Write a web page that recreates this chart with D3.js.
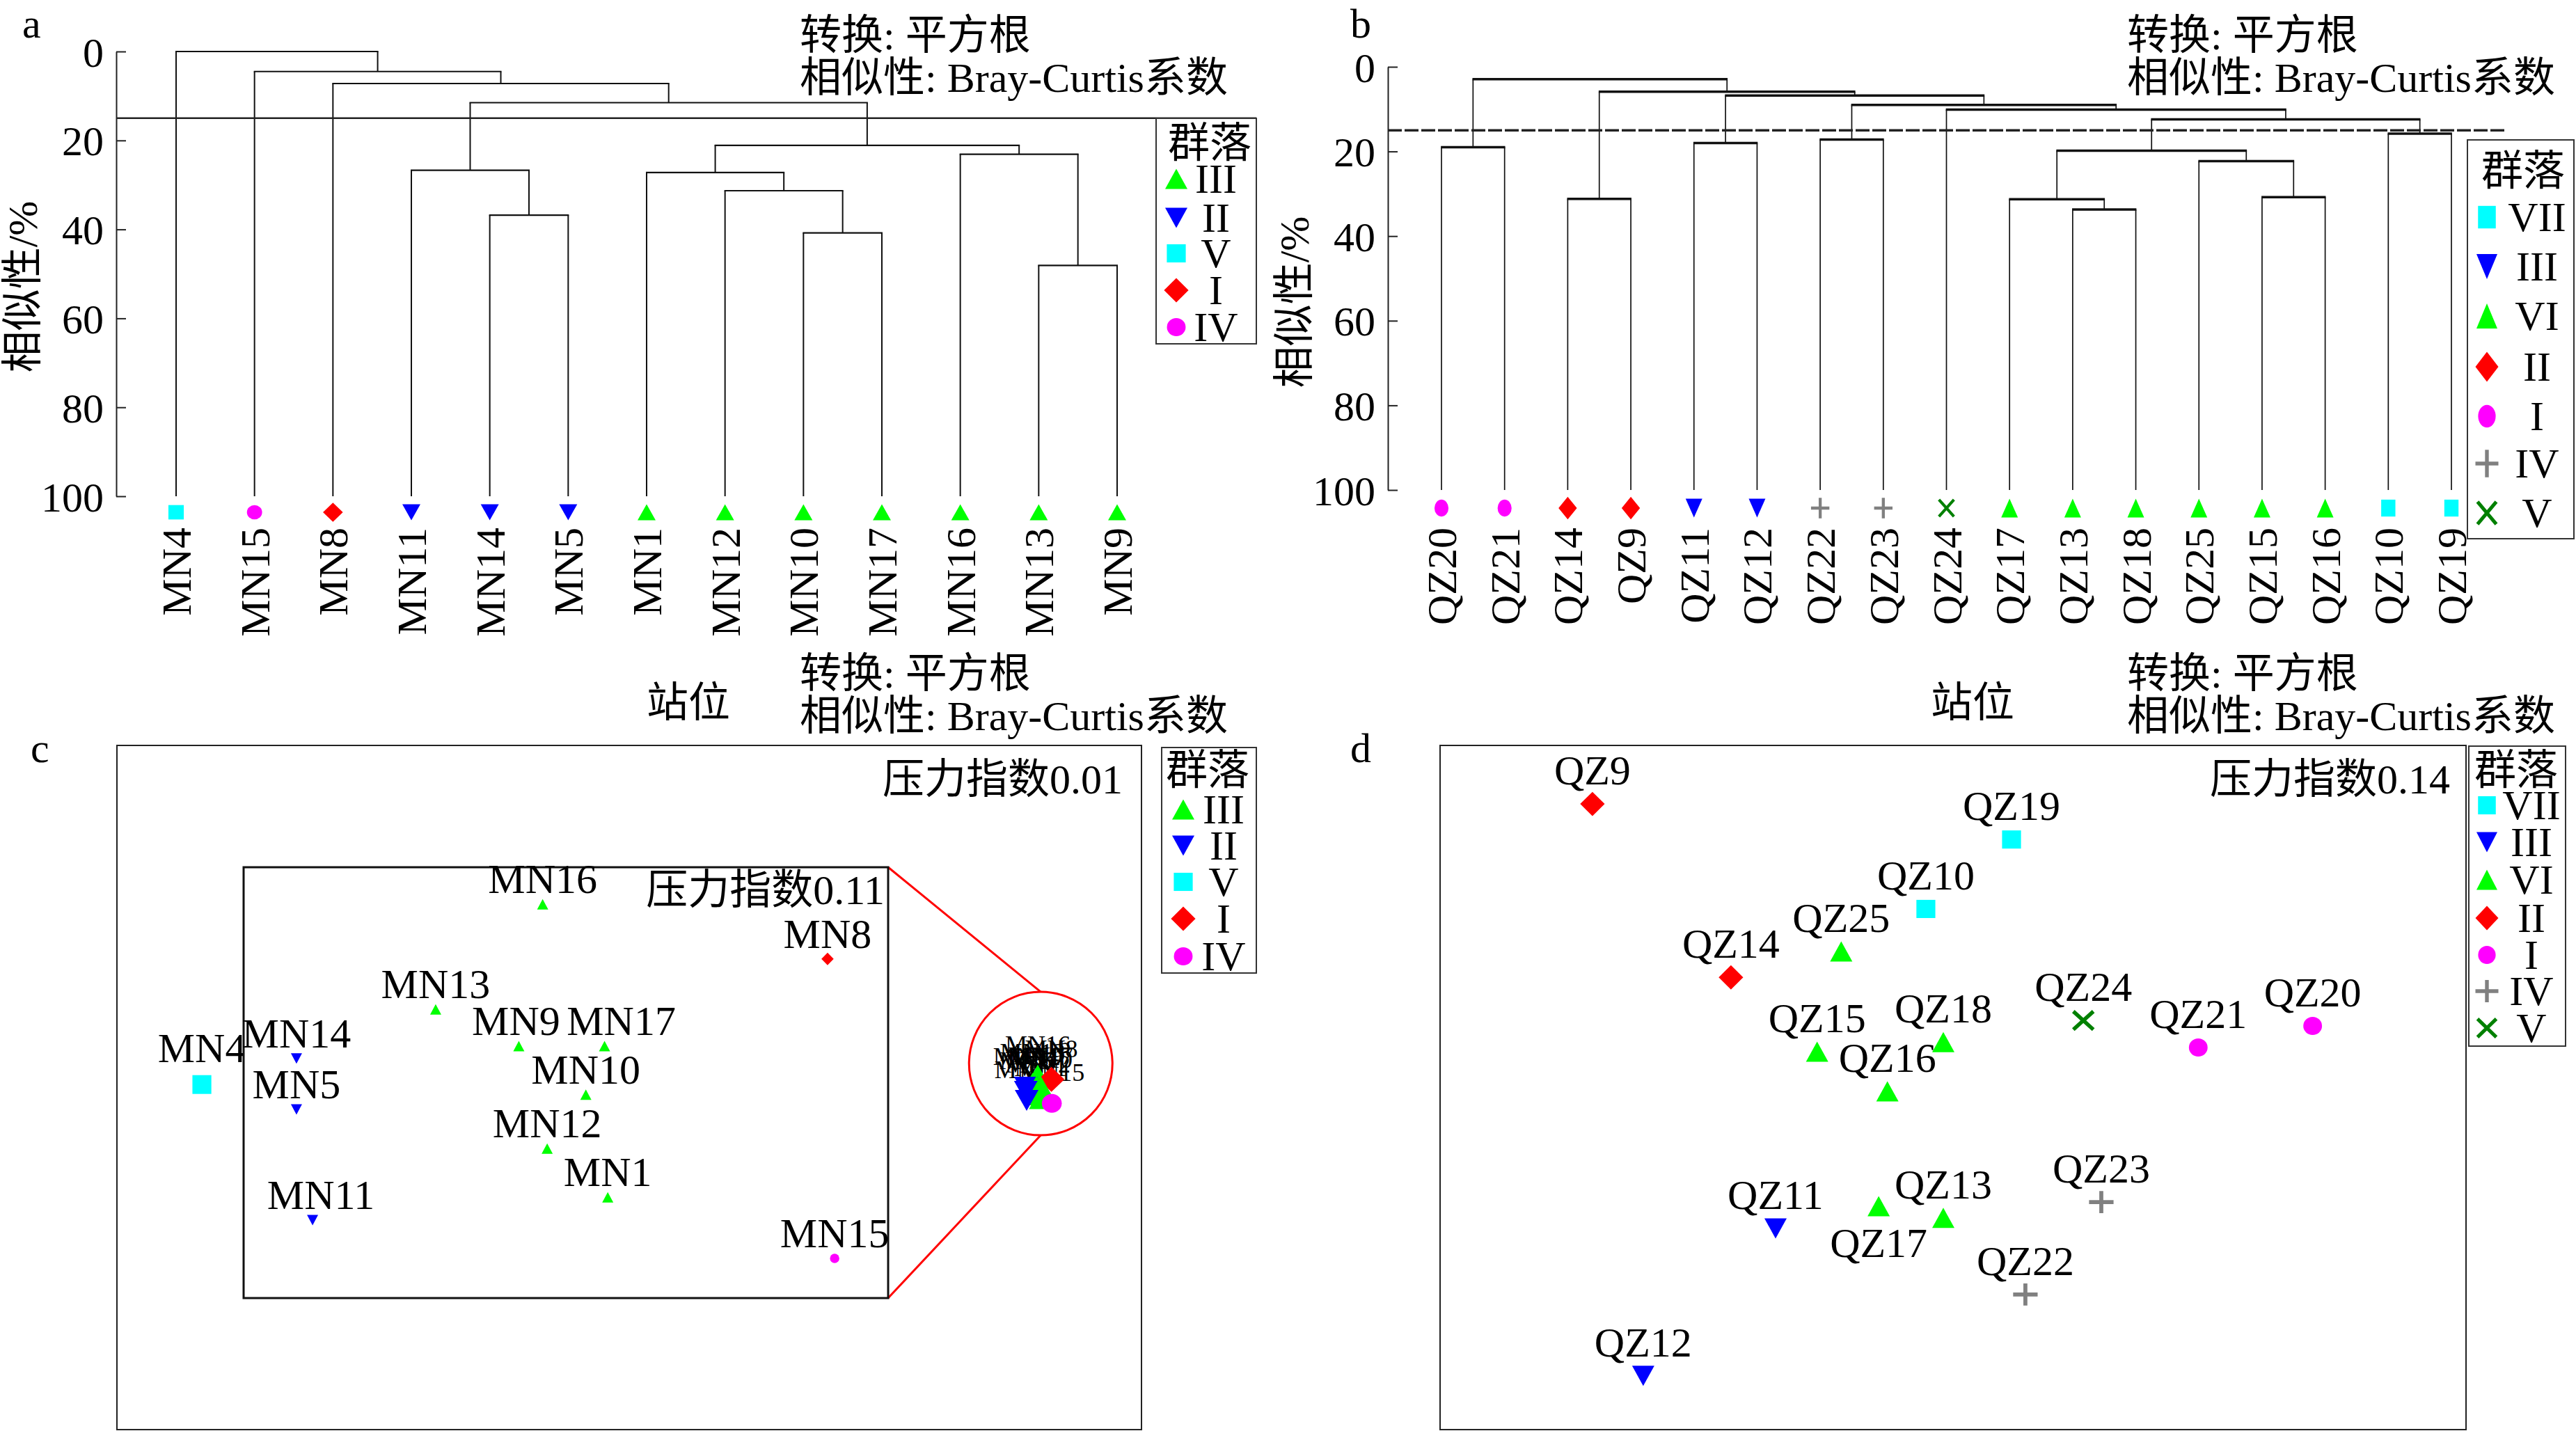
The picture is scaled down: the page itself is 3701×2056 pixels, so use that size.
<!DOCTYPE html>
<html><head><meta charset="utf-8">
<script src="https://cdn.jsdelivr.net/npm/d3@7"></script>
<style>
body{margin:0;background:#fff}
svg{display:block}
text{font-family:"Liberation Serif","Times New Roman","Noto Sans CJK SC",serif;fill:#000}
</style>
</head><body>
<svg id="chart" width="3701" height="2056"></svg>
<script>
// ---------------- DATA ----------------
// Panel a: dendrogram (sites MN)
const leavesA = ["MN4","MN15","MN8","MN11","MN14","MN5","MN1","MN12","MN10","MN17","MN16","MN13","MN9"];
const groupsA = ["V","IV","I","II","II","II","III","III","III","III","III","III","III"];
// [left, right, similarity %, node id]
const mergesA = [
  ["MN14","MN5",36.8,"a1"],
  ["MN11","a1",26.7,"a2"],
  ["MN10","MN17",40.8,"a3"],
  ["MN12","a3",31.3,"a4"],
  ["MN1","a4",27.2,"a5"],
  ["MN13","MN9",48.1,"a6"],
  ["MN16","a6",23.1,"a7"],
  ["a5","a7",21.1,"a8"],
  ["a2","a8",11.5,"a9"],
  ["MN8","a9",7.2,"a10"],
  ["MN15","a10",4.5,"a11"],
  ["MN4","a11",0.0,"a12"]
];
const cutA = 15;
const legendA = ["III","II","V","I","IV"];

// Panel b: dendrogram (sites QZ)
const leavesB = ["QZ20","QZ21","QZ14","QZ9","QZ11","QZ12","QZ22","QZ23","QZ24","QZ17","QZ13","QZ18","QZ25","QZ15","QZ16","QZ10","QZ19"];
const groupsB = ["I","I","II","II","III","III","IV","IV","V","VI","VI","VI","VI","VI","VI","VII","VII"];
const mergesB = [
  ["QZ20","QZ21",19.0,"b1"],
  ["QZ14","QZ9",31.2,"b2"],
  ["QZ11","QZ12",18.0,"b3"],
  ["QZ22","QZ23",17.2,"b4"],
  ["QZ13","QZ18",33.7,"b5"],
  ["QZ17","b5",31.3,"b6"],
  ["QZ15","QZ16",30.8,"b7"],
  ["QZ25","b7",22.3,"b8"],
  ["b6","b8",19.8,"b9"],
  ["QZ10","QZ19",15.8,"b10"],
  ["b9","b10",12.4,"b11"],
  ["QZ24","b11",10.1,"b12"],
  ["b4","b12",9.0,"b13"],
  ["b3","b13",6.8,"b14"],
  ["b2","b14",5.9,"b15"],
  ["b1","b15",2.9,"b16"]
];
const cutB = 15;
const legendB = ["VII","III","VI","II","I","IV","V"];
const simTicks = [0,20,40,60,80,100];

// Panel c: NMDS (stress 0.01) and inset (stress 0.11)
const namesC  = ["MN16","MN8","MN13","MN14","MN9","MN17","MN5","MN10","MN12","MN1","MN11","MN15"];
const groupsC = ["III","I","III","II","III","III","II","III","III","III","II","IV"];
const insetX  = [46.4,90.6,29.8,8.2,42.7,56.0,8.2,53.1,47.1,56.5,10.7,91.7];
const insetY  = [91.4,78.7,67.0,55.6,58.5,58.5,43.8,47.2,34.7,23.4,18.1,9.2];
const mainX   = [0.957,0.989,0.945,0.929,0.954,0.964,0.929,0.962,0.957,0.964,0.931,0.990];
const mainY   = [0.029,0.019,0.010,0.001,0.003,0.003,-0.009,-0.006,-0.017,-0.026,-0.030,-0.037];
const outlierC = {name:"MN4", group:"V", x:-1.001, y:0.007};
const zoomCircleC = {x:0.964, y:0.056};
const legendC = ["III","II","V","I","IV"];
const labelShiftC = {MN9:-4, MN17:24, MN11:12};

// Panel d: NMDS (stress 0.14)
const namesD  = ["QZ9","QZ19","QZ10","QZ25","QZ14","QZ24","QZ21","QZ20","QZ18","QZ15","QZ16","QZ23","QZ13","QZ17","QZ11","QZ22","QZ12"];
const groupsD = ["II","VII","VII","VI","II","V","I","I","VI","VI","VI","IV","VI","VI","III","IV","III"];
const xD = [-0.703,0.114,-0.053,-0.218,-0.433,0.254,0.478,0.701,-0.019,-0.265,-0.128,0.289,-0.019,-0.145,-0.346,0.141,-0.604];
const yD = [0.829,0.725,0.522,0.398,0.322,0.196,0.117,0.180,0.133,0.105,-0.011,-0.335,-0.381,-0.347,-0.412,-0.605,-0.843];
const labelBelowD = ["QZ17"];
const legendD = ["VII","III","VI","II","I","IV","V"];

const txtTransform = "转换: 平方根";
const txtSimilarity = "相似性: Bray-Curtis系数";
const txtYLabel = "相似性/%";
const txtXLabel = "站位";
const txtLegendTitle = "群落";
const stressMainC = "压力指数0.01", stressInsetC = "压力指数0.11", stressD = "压力指数0.14";

// ---------------- STYLE ----------------
const styleA = {III:{shape:"up",color:"#00ff00"},II:{shape:"down",color:"#0000ff"},V:{shape:"square",color:"#00ffff"},I:{shape:"diamond",color:"#ff0000"},IV:{shape:"circle",color:"#ff00ff"}};
const styleB = {VII:{shape:"square",color:"#00ffff"},III:{shape:"down",color:"#0000ff"},VI:{shape:"up",color:"#00ff00"},II:{shape:"diamond",color:"#ff0000"},I:{shape:"circle",color:"#ff00ff"},IV:{shape:"plus",color:"#808080"},V:{shape:"cross",color:"#008000"}};
const FS = 60;
const svg = d3.select("#chart");

function marker(g, st, cx, cy, w, h) {
  const c = st.color;
  switch (st.shape) {
    case "up":
      g.append("path").attr("d",`M${cx},${cy-h/2}L${cx+w/2},${cy+h/2}L${cx-w/2},${cy+h/2}Z`).attr("fill",c); break;
    case "down":
      g.append("path").attr("d",`M${cx-w/2},${cy-h/2}L${cx+w/2},${cy-h/2}L${cx},${cy+h/2}Z`).attr("fill",c); break;
    case "square":
      g.append("rect").attr("x",cx-w*0.425).attr("y",cy-h*0.45).attr("width",w*0.85).attr("height",h*0.9).attr("fill",c); break;
    case "diamond":
      g.append("path").attr("d",`M${cx},${cy-h*0.6}L${cx+w*0.55},${cy}L${cx},${cy+h*0.6}L${cx-w*0.55},${cy}Z`).attr("fill",c); break;
    case "circle":
      g.append("ellipse").attr("cx",cx).attr("cy",cy).attr("rx",w*0.42).attr("ry",h*0.45).attr("fill",c); break;
    case "plus":
      g.append("path").attr("d",`M${cx-w*0.55},${cy}H${cx+w*0.55}M${cx},${cy-h*0.55}V${cy+h*0.55}`).attr("stroke",c).attr("stroke-width",w*0.18).attr("fill","none"); break;
    case "cross":
      g.append("path").attr("d",`M${cx-w*0.45},${cy-h*0.45}L${cx+w*0.45},${cy+h*0.45}M${cx+w*0.45},${cy-h*0.45}L${cx-w*0.45},${cy+h*0.45}`).attr("stroke",c).attr("stroke-width",w*0.17).attr("fill","none"); break;
  }
}

function text(g, x, y, s, opts={}) {
  const t = g.append("text").attr("x",x).attr("y",y).text(s)
    .attr("font-size",opts.fs||FS).attr("text-anchor",opts.anchor||"start");
  if (opts.transform) t.attr("transform",opts.transform);
  if (opts.dy) t.attr("dy",opts.dy);
  return t;
}

function legend(g, box, items, style, titleCx, titleY, ys, mx, tx, mw, mh) {
  g.append("rect").attr("x",box[0]).attr("y",box[1]).attr("width",box[2]-box[0]).attr("height",box[3]-box[1])
    .attr("fill","#fff").attr("stroke","#333").attr("stroke-width",2);
  text(g, titleCx, titleY + 0.36*FS, txtLegendTitle, {anchor:"middle"});
  items.forEach((k,i)=>{
    marker(g, style[k], mx, ys[i], mw, mh);
    text(g, tx, ys[i] + 0.33*FS, k, {anchor:"middle"});
  });
}

function dendrogram(opts) {
  const g = svg.append("g");
  const x = d3.scalePoint().domain(opts.leaves).range(opts.xRange);
  const y = d3.scaleLinear().domain([0,100]).range(opts.yRange);
  const axis = d3.axisLeft(y).tickValues(simTicks).tickSizeInner(-14).tickSizeOuter(0).tickPadding(18);
  const ag = g.append("g").attr("transform",`translate(${opts.axisX},0)`).call(axis);
  ag.selectAll("path,line").attr("stroke","#222").attr("stroke-width",2);
  ag.selectAll("text").attr("font-size",FS).attr("font-family",null).attr("fill","#000").attr("dy","0.35em");
  const nodes = {};
  opts.leaves.forEach(l => nodes[l] = {x:x(l), h:100});
  const hs = [], vs = [];
  opts.merges.forEach(([a,b,h,id])=>{
    const A = nodes[a], B = nodes[b];
    vs.push([A.x, y(A.h), A.x, y(h)]);
    vs.push([B.x, y(B.h), B.x, y(h)]);
    hs.push([A.x, y(h), B.x, y(h)]);
    nodes[id] = {x:(A.x+B.x)/2, h:h};
  });
  g.selectAll(null).data(vs).enter().append("line")
    .attr("x1",d=>d[0]).attr("y1",d=>d[1]).attr("x2",d=>d[2]).attr("y2",d=>d[3])
    .attr("stroke","#111").attr("stroke-width",opts.vw);
  g.selectAll(null).data(hs).enter().append("line")
    .attr("x1",d=>d[0]-opts.vw/2).attr("y1",d=>d[1]).attr("x2",d=>d[2]+opts.vw/2).attr("y2",d=>d[3])
    .attr("stroke","#111").attr("stroke-width",opts.hw);
  const cl = g.append("line").attr("x1",opts.axisX).attr("x2",opts.cutEnd).attr("y1",y(opts.cut)).attr("y2",y(opts.cut))
    .attr("stroke","#222").attr("stroke-width",opts.cutW);
  if (opts.dash) cl.attr("stroke-dasharray",opts.dash);
  opts.leaves.forEach((l,i)=>{
    marker(g, opts.style[opts.groups[i]], x(l), opts.markerY, opts.mw, opts.mh);
    text(g, 0, 0, l, {anchor:"end", dy:"0.35em", transform:`translate(${x(l)},${opts.labelY}) rotate(-90)`});
  });
  text(g, 0, 0, txtYLabel, {anchor:"middle", transform:`translate(${opts.yTitle[0]},${opts.yTitle[1]}) rotate(-90)`, dy:"0.35em"});
  text(g, opts.xTitle[0], opts.xTitle[1], txtXLabel, {anchor:"middle"});
  return g;
}

// ---------------- PANEL A ----------------
const gA = dendrogram({leaves:leavesA, groups:groupsA, merges:mergesA, style:styleA,
  xRange:[253,1605], yRange:[74,713], axisX:167, cut:cutA, cutEnd:1805, cutW:2.5,
  vw:2, hw:2.2, markerY:736, mw:26, mh:23, labelY:758, yTitle:[32,412], xTitle:[989,1030]});
text(gA, 32, 54, "a");
text(gA, 1149, 71, txtTransform); text(gA, 1149, 132, txtSimilarity);
text(gA, 1149, 988, txtTransform); text(gA, 1149, 1049, txtSimilarity);
legend(gA, [1661,170,1805,494], legendA, styleA, 1738, 204, [257,313,364,417,470], 1690, 1747, 32, 29);

// ---------------- PANEL B ----------------
const gB = dendrogram({leaves:leavesB, groups:groupsB, merges:mergesB, style:styleB,
  xRange:[2071,3522], yRange:[96,704], axisX:1994, cut:cutB, cutEnd:3600, cutW:3.5, dash:"20,4",
  vw:1.7, hw:3.5, markerY:730, mw:24, mh:27, labelY:758, yTitle:[1859,434], xTitle:[2834,1030]});
text(gB, 1940, 54, "b");
text(gB, 3056, 71, txtTransform); text(gB, 3056, 132, txtSimilarity);
text(gB, 3056, 988, txtTransform); text(gB, 3056, 1049, txtSimilarity);
legend(gB, [3545,201,3698,774], legendB, styleB, 3625, 244, [312,383,454,527,598,666,737], 3573, 3645, 30, 36);

// ---------------- PANEL C ----------------
const gC = svg.append("g");
const cx = d3.scaleLinear().domain([-1.2,1.2]).range([168,1640]);
const cy = d3.scaleLinear().domain([-0.8,0.8]).range([2054,1071]);
const ix = d3.scaleLinear().domain([0,100]).range([350,1276]);
const iy = d3.scaleLinear().domain([0,100]).range([1865,1246]);
gC.append("rect").attr("x",168).attr("y",1071).attr("width",1640-168).attr("height",2054-1071)
  .attr("fill","none").attr("stroke","#222").attr("stroke-width",2);
text(gC, 44, 1095, "c");
text(gC, 1613, 1140, stressMainC, {anchor:"end"});
const zc = [cx(zoomCircleC.x), cy(zoomCircleC.y)], zr = 103;
gC.append("circle").attr("cx",zc[0]).attr("cy",zc[1]).attr("r",zr).attr("fill","#fff").attr("stroke","#ff0000").attr("stroke-width",3);
gC.append("line").attr("x1",ix(100)).attr("y1",iy(100)).attr("x2",zc[0]).attr("y2",zc[1]-zr).attr("stroke","#ff0000").attr("stroke-width",3);
gC.append("line").attr("x1",ix(100)).attr("y1",iy(0)).attr("x2",zc[0]).attr("y2",zc[1]+zr).attr("stroke","#ff0000").attr("stroke-width",3);
namesC.forEach((n,i)=>{
  text(gC, cx(mainX[i]), cy(mainY[i]) - 32, n, {anchor:"middle", fs:36});
});
namesC.forEach((n,i)=>{
  marker(gC, styleA[groupsC[i]], cx(mainX[i]), cy(mainY[i]), 34, 30);
});
marker(gC, styleA[outlierC.group], cx(outlierC.x), cy(outlierC.y), 32, 30);
text(gC, cx(outlierC.x), cy(outlierC.y) - 32, outlierC.name, {anchor:"middle"});
gC.append("rect").attr("x",ix(0)).attr("y",iy(100)).attr("width",ix(100)-ix(0)).attr("height",iy(0)-iy(100))
  .attr("fill","#fff").attr("stroke","#111").attr("stroke-width",3);
text(gC, 1271, 1299, stressInsetC, {anchor:"end"});
namesC.forEach((n,i)=>{
  marker(gC, styleA[groupsC[i]], ix(insetX[i]), iy(insetY[i]), 16, 15);
  text(gC, ix(insetX[i]) + (labelShiftC[n]||0), iy(insetY[i]) - 16, n, {anchor:"middle"});
});
legend(gC, [1669,1074,1805,1398], legendC, styleA, 1735, 1105, [1163,1215,1267,1320,1374], 1700, 1758, 32, 29);

// ---------------- PANEL D ----------------
const gD = svg.append("g");
const dx = d3.scaleLinear().domain([-1,1]).range([2069,3543]);
const dy = d3.scaleLinear().domain([-1,1]).range([2054,1071]);
gD.append("rect").attr("x",2069).attr("y",1071).attr("width",3543-2069).attr("height",2054-1071)
  .attr("fill","none").attr("stroke","#222").attr("stroke-width",2);
text(gD, 1940, 1095, "d");
text(gD, 3520, 1140, stressD, {anchor:"end"});
namesD.forEach((n,i)=>{
  const px = dx(xD[i]), py = dy(yD[i]);
  marker(gD, styleB[groupsD[i]], px, py, 32, 29);
  const below = labelBelowD.includes(n);
  text(gD, px, below ? py + 73 : py - 28, n, {anchor:"middle"});
});
legend(gD, [3547,1072,3686,1503], legendD, styleB, 3615, 1105, [1157,1210,1264,1319,1372,1424,1477], 3573, 3637, 30, 29);
</script>
</body></html>
